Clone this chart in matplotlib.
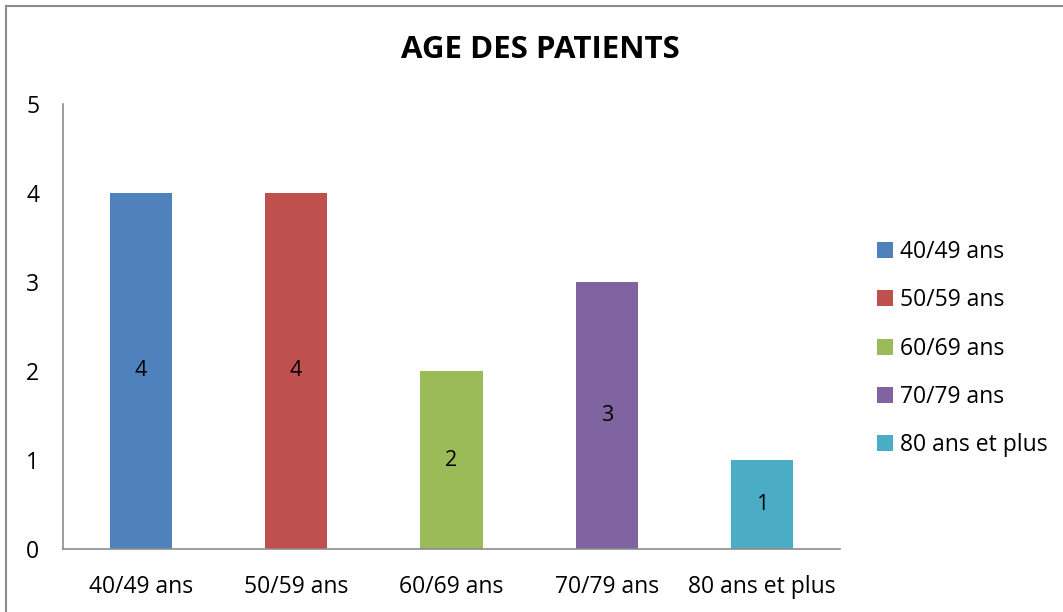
import matplotlib.pyplot as plt
from matplotlib.patches import Patch, Rectangle

categories = ['40/49 ans', '50/59 ans', '60/69 ans', '70/79 ans', '80 ans et plus']
values = [4, 4, 2, 3, 1]
colors = ['#4F81BD', '#C0504D', '#9BBB59', '#8064A2', '#4BACC6']

plt.rcParams['font.family'] = ['Open Sans', 'DejaVu Sans']

fig = plt.figure(figsize=(10.63, 6.12), dpi=100)
ax = fig.add_axes([63 / 1063, 1 - 549 / 612, (840 - 63) / 1063, (549 - 104) / 612])

x = list(range(len(categories)))
bars = ax.bar(x, values, width=0.40, color=colors)

# value labels in the middle of each bar
for xi, v in zip(x, values):
    ax.text(xi, v / 2, str(v), ha='center', va='center', fontsize=15.5, color='black')

ax.set_xlim(-0.5, len(categories) - 0.5)
ax.set_ylim(0, 5)
ax.set_yticks(range(6))
ax.set_xticks(x)
ax.set_xticklabels(categories)
ax.tick_params(axis='both', length=0, labelsize=16.5)
ax.tick_params(axis='y', pad=17)
ax.tick_params(axis='x', pad=19)

for s in ['top', 'right']:
    ax.spines[s].set_visible(False)
for s in ['left', 'bottom']:
    ax.spines[s].set_color('#8c8c8c')
    ax.spines[s].set_linewidth(1.2)

fig.text(540 / 1063, 1 - 50 / 612, 'AGE DES PATIENTS', ha='center', va='center',
         fontsize=22.5, fontweight='bold')

handles = [Patch(facecolor=c, label=l) for c, l in zip(colors, categories)]
fig.legend(handles=handles, loc='upper left', bbox_to_anchor=(868 / 1063, 1 - 231 / 612),
           frameon=False, fontsize=16.5, handlelength=0.7, handleheight=0.7,
           handletextpad=0.3, labelspacing=1.06, borderaxespad=0)

# outer chart border
fig.patches.append(Rectangle((6 / 1063, -0.01), 1.1, 1 - 6 / 612 + 0.01, transform=fig.transFigure,
                             fill=False, edgecolor='#8c8c8c', linewidth=1.5))

fig.savefig('out.png', dpi=100)
